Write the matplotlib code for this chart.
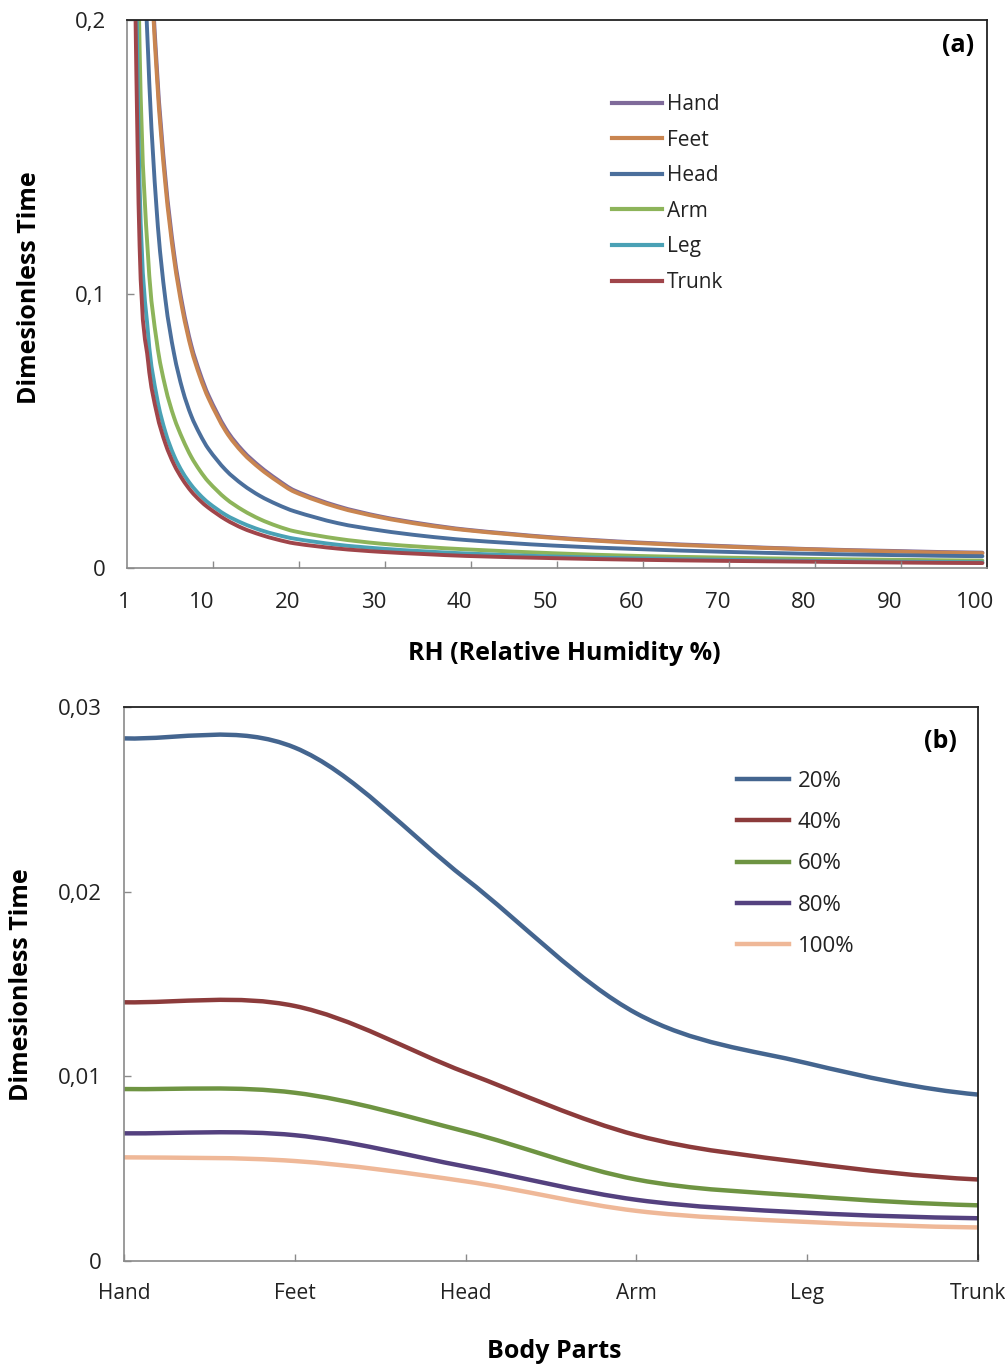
import numpy as np
import matplotlib
matplotlib.use("Agg")
import matplotlib.pyplot as plt
from matplotlib.path import Path
from matplotlib.patches import PathPatch
from matplotlib.lines import Line2D
from matplotlib.transforms import ScaledTranslation

plt.rcParams['font.family'] = ['Open Sans', 'DejaVu Sans']

# (a) dimensionless time against relative humidity, one curve per body part
rh = [1, 2, 3, 4, 5, 6, 7, 8, 9, 10, 12, 14, 16, 18, 20, 25, 30, 35, 40, 50, 60, 70, 80, 90, 100]
hand = [0.763, 0.377, 0.249, 0.183, 0.1425, 0.115, 0.0957, 0.0814, 0.0713, 0.0631, 0.0509, 0.0428,
        0.0370, 0.0323, 0.0283, 0.0226, 0.0188, 0.0161, 0.0140, 0.0112, 0.0093, 0.0080, 0.0069,
        0.0062, 0.0056]
feet = [0.75, 0.37, 0.245, 0.18, 0.14, 0.113, 0.094, 0.080, 0.070, 0.062, 0.050, 0.042,
        0.0363, 0.0317, 0.0278, 0.0222, 0.0185, 0.0158, 0.0138, 0.0110, 0.0091, 0.0078, 0.0068,
        0.0060, 0.0054]
head = [0.62, 0.295, 0.187, 0.130, 0.098, 0.0783, 0.065, 0.0556, 0.0489, 0.0435, 0.0358, 0.0304,
        0.0263, 0.0232, 0.0207, 0.0164, 0.0137, 0.0117, 0.0102, 0.0082, 0.0069, 0.0059, 0.0052,
        0.0047, 0.0043]
arm = [0.42, 0.19, 0.113, 0.0825, 0.066, 0.055, 0.0471, 0.0406, 0.0356, 0.0315, 0.0254, 0.0211,
       0.0178, 0.0153, 0.0134, 0.0107, 0.0089, 0.0077, 0.0068, 0.0054, 0.0044, 0.0038, 0.0033,
       0.0030, 0.0027]
leg = [0.33, 0.14, 0.085, 0.0625, 0.0496, 0.041, 0.0349, 0.0303, 0.0267, 0.0238, 0.0194, 0.0163,
       0.0139, 0.0121, 0.0107, 0.0085, 0.0071, 0.0061, 0.0053, 0.0042, 0.0035, 0.0030, 0.0026,
       0.0023, 0.0021]
trunk = [0.29, 0.1175, 0.075, 0.0565, 0.0454, 0.0378, 0.0323, 0.028, 0.0247, 0.022, 0.0177, 0.0145,
         0.0122, 0.0104, 0.0090, 0.0071, 0.0059, 0.0051, 0.0044, 0.0036, 0.0030, 0.0026, 0.0023,
         0.0020, 0.0018]
names_a = ["Hand", "Feet", "Head", "Arm", "Leg", "Trunk"]
colors_a = ["#7f6a9a", "#c98550", "#4b6f9c", "#8db45a", "#4aa1b5", "#a0454a"]
xticks_a = [1, 10, 20, 30, 40, 50, 60, 70, 80, 90, 100]
yticks_a = [0, 0.1, 0.2]
ylabels_a = ["0", "0,1", "0,2"]

# (b) dimensionless time for each body part at several RH levels
parts = ["Hand", "Feet", "Head", "Arm", "Leg", "Trunk"]
rh20 = [0.0283, 0.0278, 0.0207, 0.0134, 0.0107, 0.0090]
rh40 = [0.0140, 0.0138, 0.0102, 0.0068, 0.0053, 0.0044]
rh60 = [0.0093, 0.0091, 0.0070, 0.0044, 0.0035, 0.0030]
rh80 = [0.0069, 0.0068, 0.0051, 0.0033, 0.0026, 0.0023]
rh100 = [0.0056, 0.0054, 0.0043, 0.0027, 0.0021, 0.0018]
names_b = ["20%", "40%", "60%", "80%", "100%"]
colors_b = ["#44658f", "#8c3b3b", "#6e9442", "#54417f", "#efb898"]
yticks_b = [0, 0.01, 0.02, 0.03]
ylabels_b = ["0", "0,01", "0,02", "0,03"]


def smooth_path(x, y):
    # smoothed line like Excel's: cubic Bezier through every point
    x = np.asarray(x, float)
    y = np.asarray(y, float)
    n = len(x)
    m = np.empty(n)
    m[1:-1] = (y[2:] - y[:-2]) / (x[2:] - x[:-2])
    m[0] = (y[1] - y[0]) / (x[1] - x[0]) / 2
    m[-1] = (y[-1] - y[-2]) / (x[-1] - x[-2]) / 2
    verts = [(x[0], y[0])]
    codes = [Path.MOVETO]
    for i in range(n - 1):
        h = x[i + 1] - x[i]
        verts += [(x[i] + h / 3, y[i] + m[i] * h / 3),
                  (x[i + 1] - h / 3, y[i + 1] - m[i + 1] * h / 3),
                  (x[i + 1], y[i + 1])]
        codes += [Path.CURVE4] * 3
    return Path(verts, codes)


def draw_line(ax, x, y, color, lw):
    patch = PathPatch(smooth_path(x, y), fill=False, edgecolor=color, lw=lw,
                      capstyle="round", joinstyle="round")
    ax.add_patch(patch)


def style_axes(ax, size):
    for s in ["top", "right"]:
        ax.spines[s].set_color("#222222")
        ax.spines[s].set_linewidth(1.3)
    for s in ["left", "bottom"]:
        ax.spines[s].set_color("#8a8a8a")
        ax.spines[s].set_linewidth(1.2)
    ax.tick_params(which="both", direction="in", length=5, width=1, color="#8a8a8a",
                   labelsize=size, labelcolor="#222222")


W, H = 1005, 1367
fig = plt.figure(figsize=(W / 100, H / 100), dpi=100)

# Panel (a)
ax1 = fig.add_axes([126.7 / W, 1 - 568 / H, 860 / W, 548 / H])
for vals, c in zip([hand, feet, head, arm, leg, trunk], colors_a):
    draw_line(ax1, rh, vals, c, 2.8)
ax1.set_xlim(0.5, 100.5)
ax1.set_ylim(0, 0.2)
ax1.set_xticks(xticks_a)
ax1.set_xticks([t + 0.5 for t in xticks_a[1:-1]], minor=True)
ax1.set_yticks(yticks_a)
ax1.set_yticklabels(ylabels_a)
style_axes(ax1, 16)
ax1.tick_params(axis="x", which="major", length=0, pad=17)
ax1.tick_params(axis="y", pad=15)
ax1.tick_params(axis="x", which="minor", labelbottom=False)
for lab in ax1.get_xticklabels():
    lab.set_transform(lab.get_transform() + ScaledTranslation(-7 / 100, 0, fig.dpi_scale_trans))

handles_a = [Line2D([], [], color=c, lw=3) for c in colors_a]
fig.legend(handles_a, names_a, loc="upper left", bbox_to_anchor=(612 / W, 1 - 94 / H),
           bbox_transform=fig.transFigure, frameon=False, fontsize=15, borderpad=0,
           borderaxespad=0, handlelength=2.4, handletextpad=0.25, labelspacing=0.7,
           labelcolor="#222222")
fig.text(958 / W, 1 - 45 / H, "(a)", fontsize=18, fontweight="bold", ha="center", va="center")
fig.text(564 / W, 1 - 654 / H, "RH (Relative Humidity %)", fontsize=18, fontweight="bold",
         ha="center", va="center")
fig.text(30 / W, 1 - 288 / H, "Dimesionless Time", fontsize=18, fontweight="bold",
         ha="center", va="center", rotation=90)

# Panel (b)
ax2 = fig.add_axes([124 / W, 1 - 1260.7 / H, 854 / W, 553.7 / H])
xb = list(range(len(parts)))
for vals, c in zip([rh20, rh40, rh60, rh80, rh100], colors_b):
    draw_line(ax2, xb, vals, c, 3.2)
ax2.set_xlim(0, len(parts) - 1)
ax2.set_ylim(0, 0.03)
ax2.set_xticks(xb)
ax2.set_xticklabels(parts)
ax2.set_yticks(yticks_b)
ax2.set_yticklabels(ylabels_b)
style_axes(ax2, 15)
ax2.tick_params(axis="x", pad=16)
ax2.tick_params(axis="y", pad=16, labelsize=16)

handles_b = [Line2D([], [], color=c, lw=3.2) for c in colors_b]
fig.legend(handles_b, names_b, loc="upper left", bbox_to_anchor=(737 / W, 1 - 771 / H),
           bbox_transform=fig.transFigure, frameon=False, fontsize=16, borderpad=0,
           borderaxespad=0, handlelength=2.34, handletextpad=0.4, labelspacing=0.91,
           labelcolor="#222222")
fig.text(940 / W, 1 - 741 / H, "(b)", fontsize=18, fontweight="bold", ha="center", va="center")
fig.text(554 / W, 1 - 1351 / H, "Body Parts", fontsize=18, fontweight="bold",
         ha="center", va="center")
fig.text(22 / W, 1 - 985 / H, "Dimesionless Time", fontsize=18, fontweight="bold",
         ha="center", va="center", rotation=90)

fig.savefig("out.png", dpi=100)
